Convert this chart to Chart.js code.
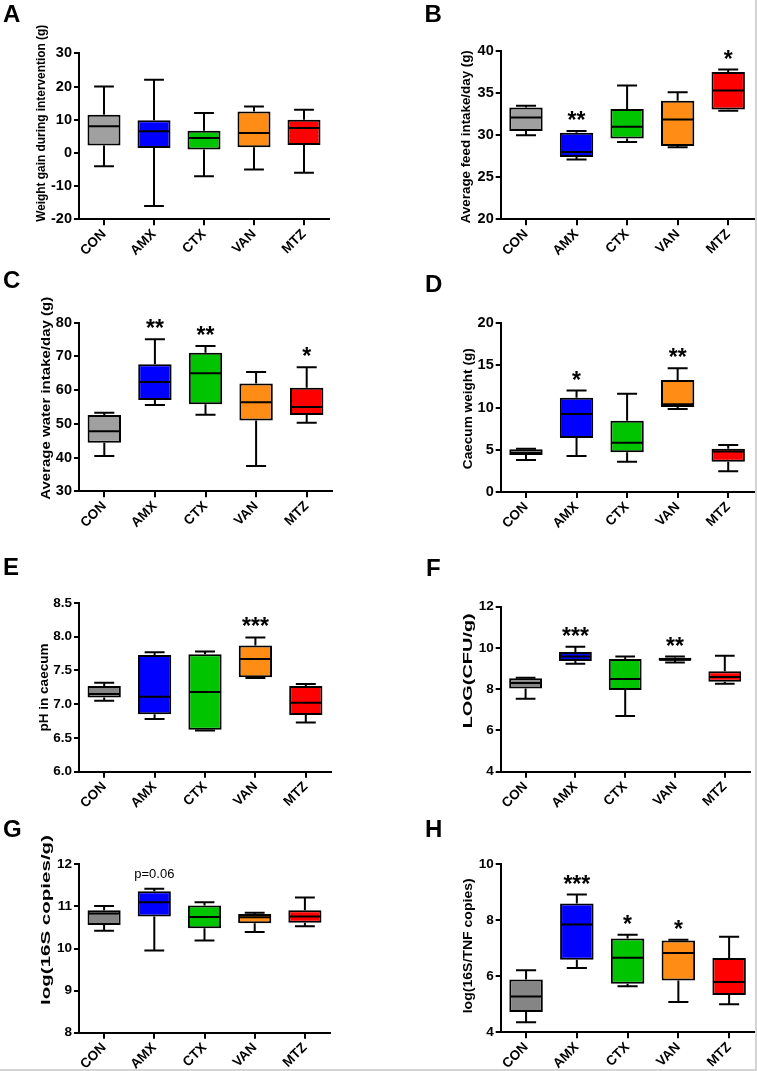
<!DOCTYPE html>
<html>
<head>
<meta charset="utf-8">
<script src="https://cdn.jsdelivr.net/npm/chart.js@4.4.0/dist/chart.umd.min.js"></script>
<style>
  html, body { margin: 0; padding: 0; background: #fff; }
  #fig { position: relative; width: 757px; height: 1071px; overflow: hidden; }
  #frame { position: absolute; left: 0; top: 0; width: 757px; height: 1071px; box-sizing: border-box;
           border-right: 2px solid #d4d4d4; border-bottom: 2px solid #d4d4d4; pointer-events: none; z-index: 5; }
  canvas { position: absolute; }
</style>
</head>
<body>
<div id="fig"><div id="frame"></div></div>
<script>
const groups = ["CON", "AMX", "CTX", "VAN", "MTZ"];

// each group: [min, q1, median, q3, max]
const weightGain   = [[-4, 2.2, 8, 11.5, 20], [-16, 1.5, 6.5, 9.8, 22], [-7, 1, 4.5, 6.7, 12], [-5, 1.7, 6, 12.5, 14], [-6, 2.4, 7.5, 10, 13]];
const feedIntake   = [[30, 30.5, 32.1, 33.3, 33.5], [27.1, 27.4, 28, 30.3, 30.5], [29.2, 29.6, 31, 33.1, 35.9], [28.55, 28.7, 31.85, 34.1, 35.1], [32.9, 33.05, 35.3, 37.5, 37.8]];
const waterIntake  = [[40.5, 44.4, 47.8, 52.6, 53.3], [55.6, 57.1, 62.4, 67.7, 75.1], [52.7, 55.8, 65, 71.1, 73.1], [37.5, 51, 56.4, 62, 65.4], [50.3, 52.6, 55, 60.7, 66.8]];
const caecumWeight = [[3.8, 4.38, 4.65, 5.05, 5.13], [4.26, 6.39, 9.23, 11.16, 12], [3.59, 4.7, 5.84, 8.44, 11.64], [9.82, 10.06, 10.37, 13.25, 14.64], [2.45, 3.59, 4.8, 5.13, 5.56]];
const caecumPH     = [[7.05, 7.1, 7.15, 7.27, 7.32], [6.78, 6.85, 7.11, 7.73, 7.77], [6.61, 6.62, 7.18, 7.74, 7.78], [7.39, 7.4, 7.67, 7.87, 7.99], [6.73, 6.84, 7.02, 7.27, 7.3]];
const logCFU       = [[7.54, 8.03, 8.3, 8.53, 8.56], [9.24, 9.37, 9.58, 9.8, 10.06], [6.7, 7.96, 8.49, 9.46, 9.58], [9.29, 9.38, 9.43, 9.53, 9.58], [8.27, 8.36, 8.59, 8.87, 9.62]];
const log16S       = [[10.42, 10.56, 10.83, 10.91, 11.01], [9.95, 10.76, 11.1, 11.36, 11.42], [10.19, 10.48, 10.75, 11.02, 11.1], [10.39, 10.6, 10.74, 10.82, 10.85], [10.53, 10.61, 10.76, 10.91, 11.21]];
const log16STNF    = [[4.36, 4.72, 5.28, 5.88, 6.21], [6.29, 6.59, 7.84, 8.59, 8.91], [5.64, 5.73, 6.66, 7.34, 7.48], [5.08, 5.85, 6.83, 7.27, 7.3], [5.0, 5.33, 5.79, 6.65, 7.41]];

const sigA = ["", "", "", "", ""];
const sigB = ["", "**", "", "", "*"];
const sigC = ["", "**", "**", "", "*"];
const sigD = ["", "*", "", "**", ""];
const sigE = ["", "", "", "***", ""];
const sigF = ["", "***", "", "**", ""];
const sigG = ["", "p=0.06", "", "", ""];
const sigH = ["", "***", "*", "*", ""];

const ticksA = [-20, -10, 0, 10, 20, 30];
const ticksB = [20, 25, 30, 35, 40];
const ticksC = [30, 40, 50, 60, 70, 80];
const ticksD = [0, 5, 10, 15, 20];
const ticksE = [6.0, 6.5, 7.0, 7.5, 8.0, 8.5];
const ticksF = [4, 6, 8, 10, 12];
const ticksG = [8, 9, 10, 11, 12];
const ticksH = [4, 6, 8, 10];

const colors = ["#a0a0a0", "#0000ff", "#00c400", "#ff8c14", "#ff0000"];
const colorsDark = ["#858585", "#0000ff", "#00c400", "#ff8c14", "#ff0000"];

// area = [left, top, right, bottom] of the plot, in canvas coords
const panels = [
  { letter: "A", stats: weightGain, sig: sigA, ticks: ticksA, dec: 0, title: "Weight gain during intervention (g)",
    x: 0, y: 0, w: 378, h: 300, area: [79, 53.3, 329, 219.3], tx: 40.8, ty: 123.3, tlen: 197, lx: 3, ly: 21.5, pal: colors, tf: 14.5 },
  { letter: "B", stats: feedIntake, sig: sigB, ticks: ticksB, dec: 0, title: "Average feed intake/day (g)",
    x: 378, y: 0, w: 379, h: 300, area: [122.7, 51, 375.5, 219.3], tx: 88.5, ty: 136.7, tlen: 173, lx: 46.5, ly: 21.5, pal: colors, tf: 14.5 },
  { letter: "C", stats: waterIntake, sig: sigC, ticks: ticksC, dec: 0, title: "Average water intake/day (g)",
    x: 0, y: 265, w: 378, h: 300, area: [79, 57.7, 332, 226.3], tx: 45.8, ty: 133.3, tlen: 203, lx: 3, ly: 22.5, pal: colors, tf: 14.5 },
  { letter: "D", stats: caecumWeight, sig: sigD, ticks: ticksD, dec: 0, title: "Caecum weight (g)",
    x: 378, y: 265, w: 379, h: 300, area: [122.7, 58, 375.5, 227], tx: 90, ty: 143.7, tlen: 121, lx: 47, ly: 26.5, pal: colors, tf: 14.5 },
  { letter: "E", stats: caecumPH, sig: sigE, ticks: ticksE, dec: 1, title: "pH in caecum",
    x: 0, y: 530, w: 378, h: 300, area: [79, 73, 331, 241.7], tx: 44.5, ty: 157.5, tlen: 88, lx: 3, ly: 45, pal: colorsDark, tf: 13.5 },
  { letter: "F", stats: logCFU, sig: sigF, ticks: ticksF, dec: 0, title: "LOG(CFU/g)",
    x: 378, y: 530, w: 379, h: 300, area: [122.7, 76.7, 371.7, 241.7], tx: 90, ty: 140.8, tlen: 115, lx: 48, ly: 46, pal: colorsDark, tf: 13.5 },
  { letter: "G", stats: log16S, sig: sigG, ticks: ticksG, dec: 0, title: "log(16S copies/g)",
    x: 0, y: 795, w: 378, h: 276, area: [79, 69.3, 330, 237.7], tx: 46.7, ty: 125, tlen: 170, lx: 3, ly: 42, pal: colorsDark, tf: 13.5 },
  { letter: "H", stats: log16STNF, sig: sigH, ticks: ticksH, dec: 0, title: "log(16S/TNF copies)",
    x: 378, y: 795, w: 379, h: 276, area: [122.7, 69, 376.5, 237.3], tx: 90, ty: 150.8, tlen: 135, lx: 47, ly: 42, pal: colorsDark, tf: 13.5 }
];

const FONT = "Arial, 'Liberation Sans', Helvetica, sans-serif";

// whiskers, medians, significance marks, axis title and panel letter
const boxPlugin = {
  id: "boxes",
  afterDatasetsDraw(chart, args, opts) {
    const p = opts.panel;
    const ctx = chart.ctx;
    const ys = chart.scales.y;
    const meta = chart.getDatasetMeta(0);
    ctx.save();
    ctx.strokeStyle = "#000";
    ctx.lineWidth = 2;
    p.stats.forEach((s, i) => {
      const bar = meta.data[i];
      const cx = bar.x, half = bar.width / 2, cap = bar.width * 0.3;
      const [mn, q1, md, q3, mx] = s.map(v => ys.getPixelForValue(v));
      ctx.beginPath();
      ctx.moveTo(cx, q3); ctx.lineTo(cx, mx);
      ctx.moveTo(cx - cap, mx); ctx.lineTo(cx + cap, mx);
      ctx.moveTo(cx, q1); ctx.lineTo(cx, mn);
      ctx.moveTo(cx - cap, mn); ctx.lineTo(cx + cap, mn);
      ctx.moveTo(cx - half + 1, md); ctx.lineTo(cx + half - 1, md);
      ctx.stroke();

      const mark = p.sig[i];
      if (mark) {
        ctx.fillStyle = "#000";
        ctx.textAlign = "center";
        ctx.textBaseline = "alphabetic";
        if (mark.startsWith("p")) {
          ctx.font = "13px " + FONT;
          ctx.fillText(mark, cx, mx - 16 + 5);
        } else {
          ctx.font = "bold 23px " + FONT;
          ctx.fillText(mark, cx, mx - 16 + 13);
        }
      }
    });
    ctx.restore();
  },
  afterDraw(chart, args, opts) {
    const p = opts.panel;
    const ctx = chart.ctx;
    ctx.save();
    ctx.fillStyle = "#000";
    ctx.font = "bold 24px " + FONT;
    ctx.textAlign = "left";
    ctx.textBaseline = "alphabetic";
    ctx.fillText(p.letter, p.lx, p.ly);

    ctx.font = "bold 13.5px " + FONT;
    const wText = ctx.measureText(p.title).width;
    ctx.translate(p.tx, p.ty);
    ctx.rotate(-Math.PI / 2);
    ctx.scale(p.tlen / wText, 1);
    ctx.textAlign = "center";
    ctx.textBaseline = "middle";
    ctx.fillText(p.title, 0, 0);
    ctx.restore();
  }
};

const fig = document.getElementById("fig");

panels.forEach(p => {
  const canvas = document.createElement("canvas");
  canvas.width = p.w;
  canvas.height = p.h;
  canvas.style.left = p.x + "px";
  canvas.style.top = p.y + "px";
  canvas.style.width = p.w + "px";
  canvas.style.height = p.h + "px";
  fig.appendChild(canvas);

  const [left, top, right, bottom] = p.area;

  new Chart(canvas, {
    type: "bar",
    data: {
      labels: groups,
      datasets: [{
        data: p.stats.map(s => [s[1], s[3]]),
        backgroundColor: p.pal,
        borderColor: "#000",
        borderWidth: 2,
        borderSkipped: false,
        barPercentage: 0.66,
        categoryPercentage: 1
      }]
    },
    options: {
      responsive: false,
      animation: false,
      devicePixelRatio: 1,
      layout: { padding: { top: top, right: p.w - right, left: 0, bottom: 0 } },
      plugins: {
        legend: { display: false },
        tooltip: { enabled: false },
        boxes: { panel: p }
      },
      scales: {
        x: {
          type: "category",
          offset: true,
          afterFit: s => { s.height = p.h - bottom; },
          grid: { offset: false, drawOnChartArea: false, drawTicks: true, tickLength: 6, color: "#000", lineWidth: 2 },
          border: { display: true, color: "#000", width: 2 },
          ticks: {
            autoSkip: false, minRotation: 45, maxRotation: 45, padding: 1, color: "#000",
            font: { family: FONT, size: 13.5, weight: "bold" }
          }
        },
        y: {
          min: p.ticks[0],
          max: p.ticks[p.ticks.length - 1],
          afterFit: s => { s.width = left; },
          afterBuildTicks: s => { s.ticks = p.ticks.map(v => ({ value: v })); },
          grid: { drawOnChartArea: false, drawTicks: true, tickLength: 5, color: "#000", lineWidth: 2 },
          border: { display: true, color: "#000", width: 2 },
          ticks: {
            padding: 2, color: "#000",
            font: { family: FONT, size: p.tf, weight: "bold" },
            callback: v => Number(v).toFixed(p.dec)
          }
        }
      }
    },
    plugins: [boxPlugin]
  });
});
</script>
</body>
</html>
